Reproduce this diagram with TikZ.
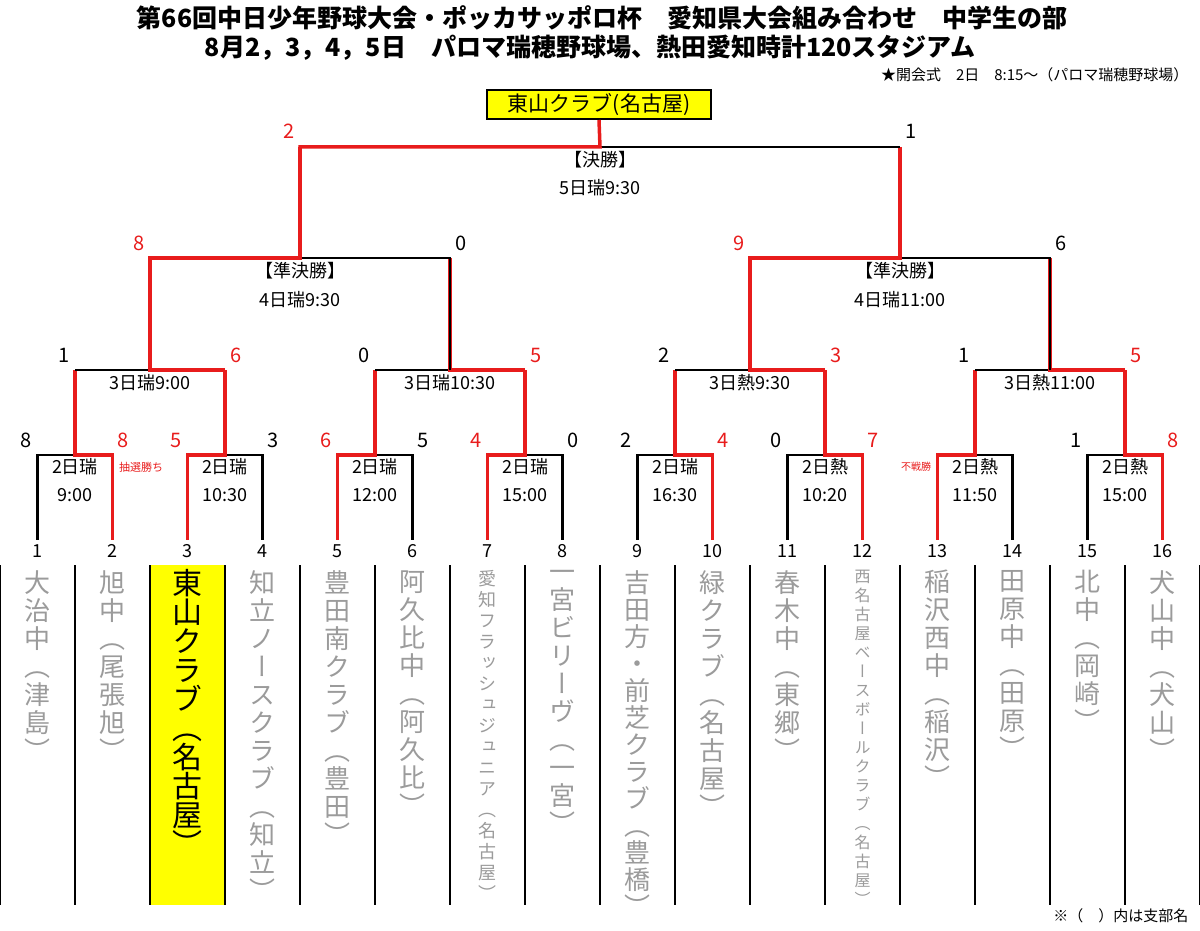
\documentclass[tikz,border=0pt]{standalone}
\usepackage{fontspec}
\setmainfont{Noto Sans CJK JP}
\newfontfamily\vjp[RawFeature=+vert]{Noto Sans CJK JP}
\definecolor{winred}{RGB}{232,28,28}
\definecolor{namegray}{RGB}{155,155,155}
\definecolor{champyellow}{RGB}{255,255,0}
\tikzset{
  loser/.style={line width=2.5pt, black},
  winner/.style={line width=3.5pt, winred},
  score/.style={font=\fontsize{20}{20}\selectfont},
  slot/.style={font=\fontsize{18}{18}\selectfont},
  teamname/.style={anchor=north, inner sep=0pt, align=center, namegray},
}
% stack the characters of a name, one per line
\def\vstack#1{\def\vtmp{}\vstackA#1\relax\vtmp}
\def\vstackA#1{\ifx#1\relax\else\expandafter\def\expandafter\vtmp\expandafter{\vtmp#1\\}\expandafter\vstackA\fi}

\begin{document}
\begin{tikzpicture}[x=1pt,y=-1pt]
  \useasboundingbox (0,0) rectangle (1200,931);

  % Titel
  \node[font=\bfseries\fontsize{25}{25}\selectfont] (title) at (602,18) {第66回中日少年野球大会・ポッカサッポロ杯　愛知県大会組み合わせ　中学生の部};
  \node[font=\bfseries\fontsize{25}{25}\selectfont] (dates) at (590,48) {8月2，3，4，5日　パロマ瑞穂野球場、熱田愛知時計120スタジアム};
  \node[anchor=east, font=\fontsize{15}{15}\selectfont] (opening) at (1192,75) {★開会式　2日　8:15～（パロマ瑞穂野球場）};
  \node[draw, line width=2pt, fill=champyellow, minimum width=224, minimum height=29, inner sep=0pt,
        font=\fontsize{21}{21}\selectfont] (champ) at (599,104.5) {東山クラブ(名古屋)};

  % 1回戦
  \foreach \m/\ls/\rs/\w/\d/\t in {1/8/8/1/2日瑞/9:00, 2/5/3/0/2日瑞/10:30, 3/6/5/0/2日瑞/12:00,
      4/4/0/0/2日瑞/15:00, 5/2/4/1/2日瑞/16:30, 6/0/7/1/2日熱/10:20, 7/{}/{}/0/2日熱/11:50, 8/1/8/1/2日熱/15:00}{
    \pgfmathsetmacro\L{37.5+150*(\m-1)}
    \pgfmathsetmacro\R{\L+75}
    \pgfmathsetmacro\C{\L+37.5}
    \ifnum\w=0
      \draw[loser] (\C,455) -- (\R,455) -- (\R,540);
      \draw[winner, line join=miter] (\C,370) -- (\C,455) -- (\L,455) -- (\L,540);
      \node[score, winred] at (\L-11,440) {\ls};
      \node[score] at (\R+11,440) {\rs};
    \else
      \draw[loser] (\C,455) -- (\L,455) -- (\L,540);
      \draw[winner, line join=miter] (\C,370) -- (\C,455) -- (\R,455) -- (\R,540);
      \node[score] at (\L-11,440) {\ls};
      \node[score, winred] at (\R+11,440) {\rs};
    \fi
    \node[slot] at (\C,467) {\d};
    \node[slot] at (\C,495) {\t};
  }
  \node[font=\fontsize{11}{11}\selectfont, winred] (lottery) at (141,467) {抽選勝ち};
  \node[font=\fontsize{10}{10}\selectfont, winred] (forfeit) at (916,467) {不戦勝};

  % 準々決勝
  \foreach \q/\ls/\rs/\d in {1/1/6/3日瑞9:00, 2/0/5/3日瑞10:30, 3/2/3/3日熱9:30, 4/1/5/3日熱11:00}{
    \pgfmathsetmacro\L{75+300*(\q-1)}
    \pgfmathsetmacro\R{\L+150}
    \pgfmathsetmacro\C{\L+75}
    \draw[loser] (\C,370) -- (\L,370);
    \draw[winner, line join=miter] (\C,258) -- (\C,370) -- (\R,370);
    \node[score] at (\L-11,355) {\ls};
    \node[score, winred] at (\R+11,355) {\rs};
    \node[slot] at (\C,383) {\d};
  }

  % 準決勝
  \foreach \s/\ls/\rs/\d in {1/8/0/4日瑞9:30, 2/9/6/4日瑞11:00}{
    \pgfmathsetmacro\L{150+600*(\s-1)}
    \pgfmathsetmacro\R{\L+300}
    \pgfmathsetmacro\C{\L+150}
    \draw[loser] (\C,258) -- (\R,258) -- (\R,370);
    \draw[winner, line join=miter] (\C,147) -- (\C,258) -- (\L,258) -- (\L,370);
    \node[score, winred] at (\L-11,243) {\ls};
    \node[score] at (\R+11,243) {\rs};
    \node[slot] at (\C,271) {【準決勝】};
    \node[slot] at (\C,300) {\d};
  }

  % 決勝
  \draw[loser] (600,147) -- (900,147);
  \draw[winner, line join=miter] (champ.south) -- (600,147) -- (300,147) -- (300,258);
  \node[score, winred] at (289,131) {2};
  \node[score] at (911,131) {1};
  \node[slot] at (600,160) {【決勝】};
  \node[slot] at (600,188) {5日瑞9:30};

  % チーム欄
  \fill[champyellow] (150,565) rectangle (225,905);
  \foreach \k in {0,...,16}
    \draw[line width=2pt] (75*\k,565) -- (75*\k,905);
  \foreach \i in {1,...,16}
    \node[font=\fontsize{18}{18}\selectfont] (num\i) at (37.5+75*\i-75,551) {\i};
  \foreach \i/\n in {1/大治中（津島）, 2/旭中（尾張旭）, 4/知立ノースクラブ（知立）, 5/豊田南クラブ（豊田）,
      6/阿久比中（阿久比）, 8/一宮ビリーヴ（一宮）, 10/緑クラブ（名古屋）,
      11/春木中（東郷）, 13/稲沢西中（稲沢）, 14/田原中（田原）, 15/北中（岡崎）, 16/犬山中（犬山）}
    \node[teamname, font=\vjp\fontsize{26}{28}\selectfont] (team\i) at (37.5+75*\i-75,570) {\expandafter\vstack\expandafter{\n}};
  \node[teamname, font=\vjp\fontsize{26}{27}\selectfont] (team9) at (637.5,570) {\vstack{吉田方・前芝クラブ（豊橋）}};
  \node[teamname, black, font=\vjp\fontsize{30}{29}\selectfont] (team3) at (187.5,569) {\vstack{東山クラブ（名古屋）}};
  \node[teamname, font=\vjp\fontsize{18}{21}\selectfont] (team7) at (487.5,570) {\vstack{愛知フラッシュジュニア（名古屋）}};
  \node[teamname, font=\vjp\fontsize{16}{19}\selectfont] (team12) at (862.5,570) {\vstack{西名古屋ベースボールクラブ（名古屋）}};

  \node[anchor=east, font=\fontsize{15}{15}\selectfont] (note) at (1192,916) {※（　）内は支部名};
\end{tikzpicture}
\end{document}
